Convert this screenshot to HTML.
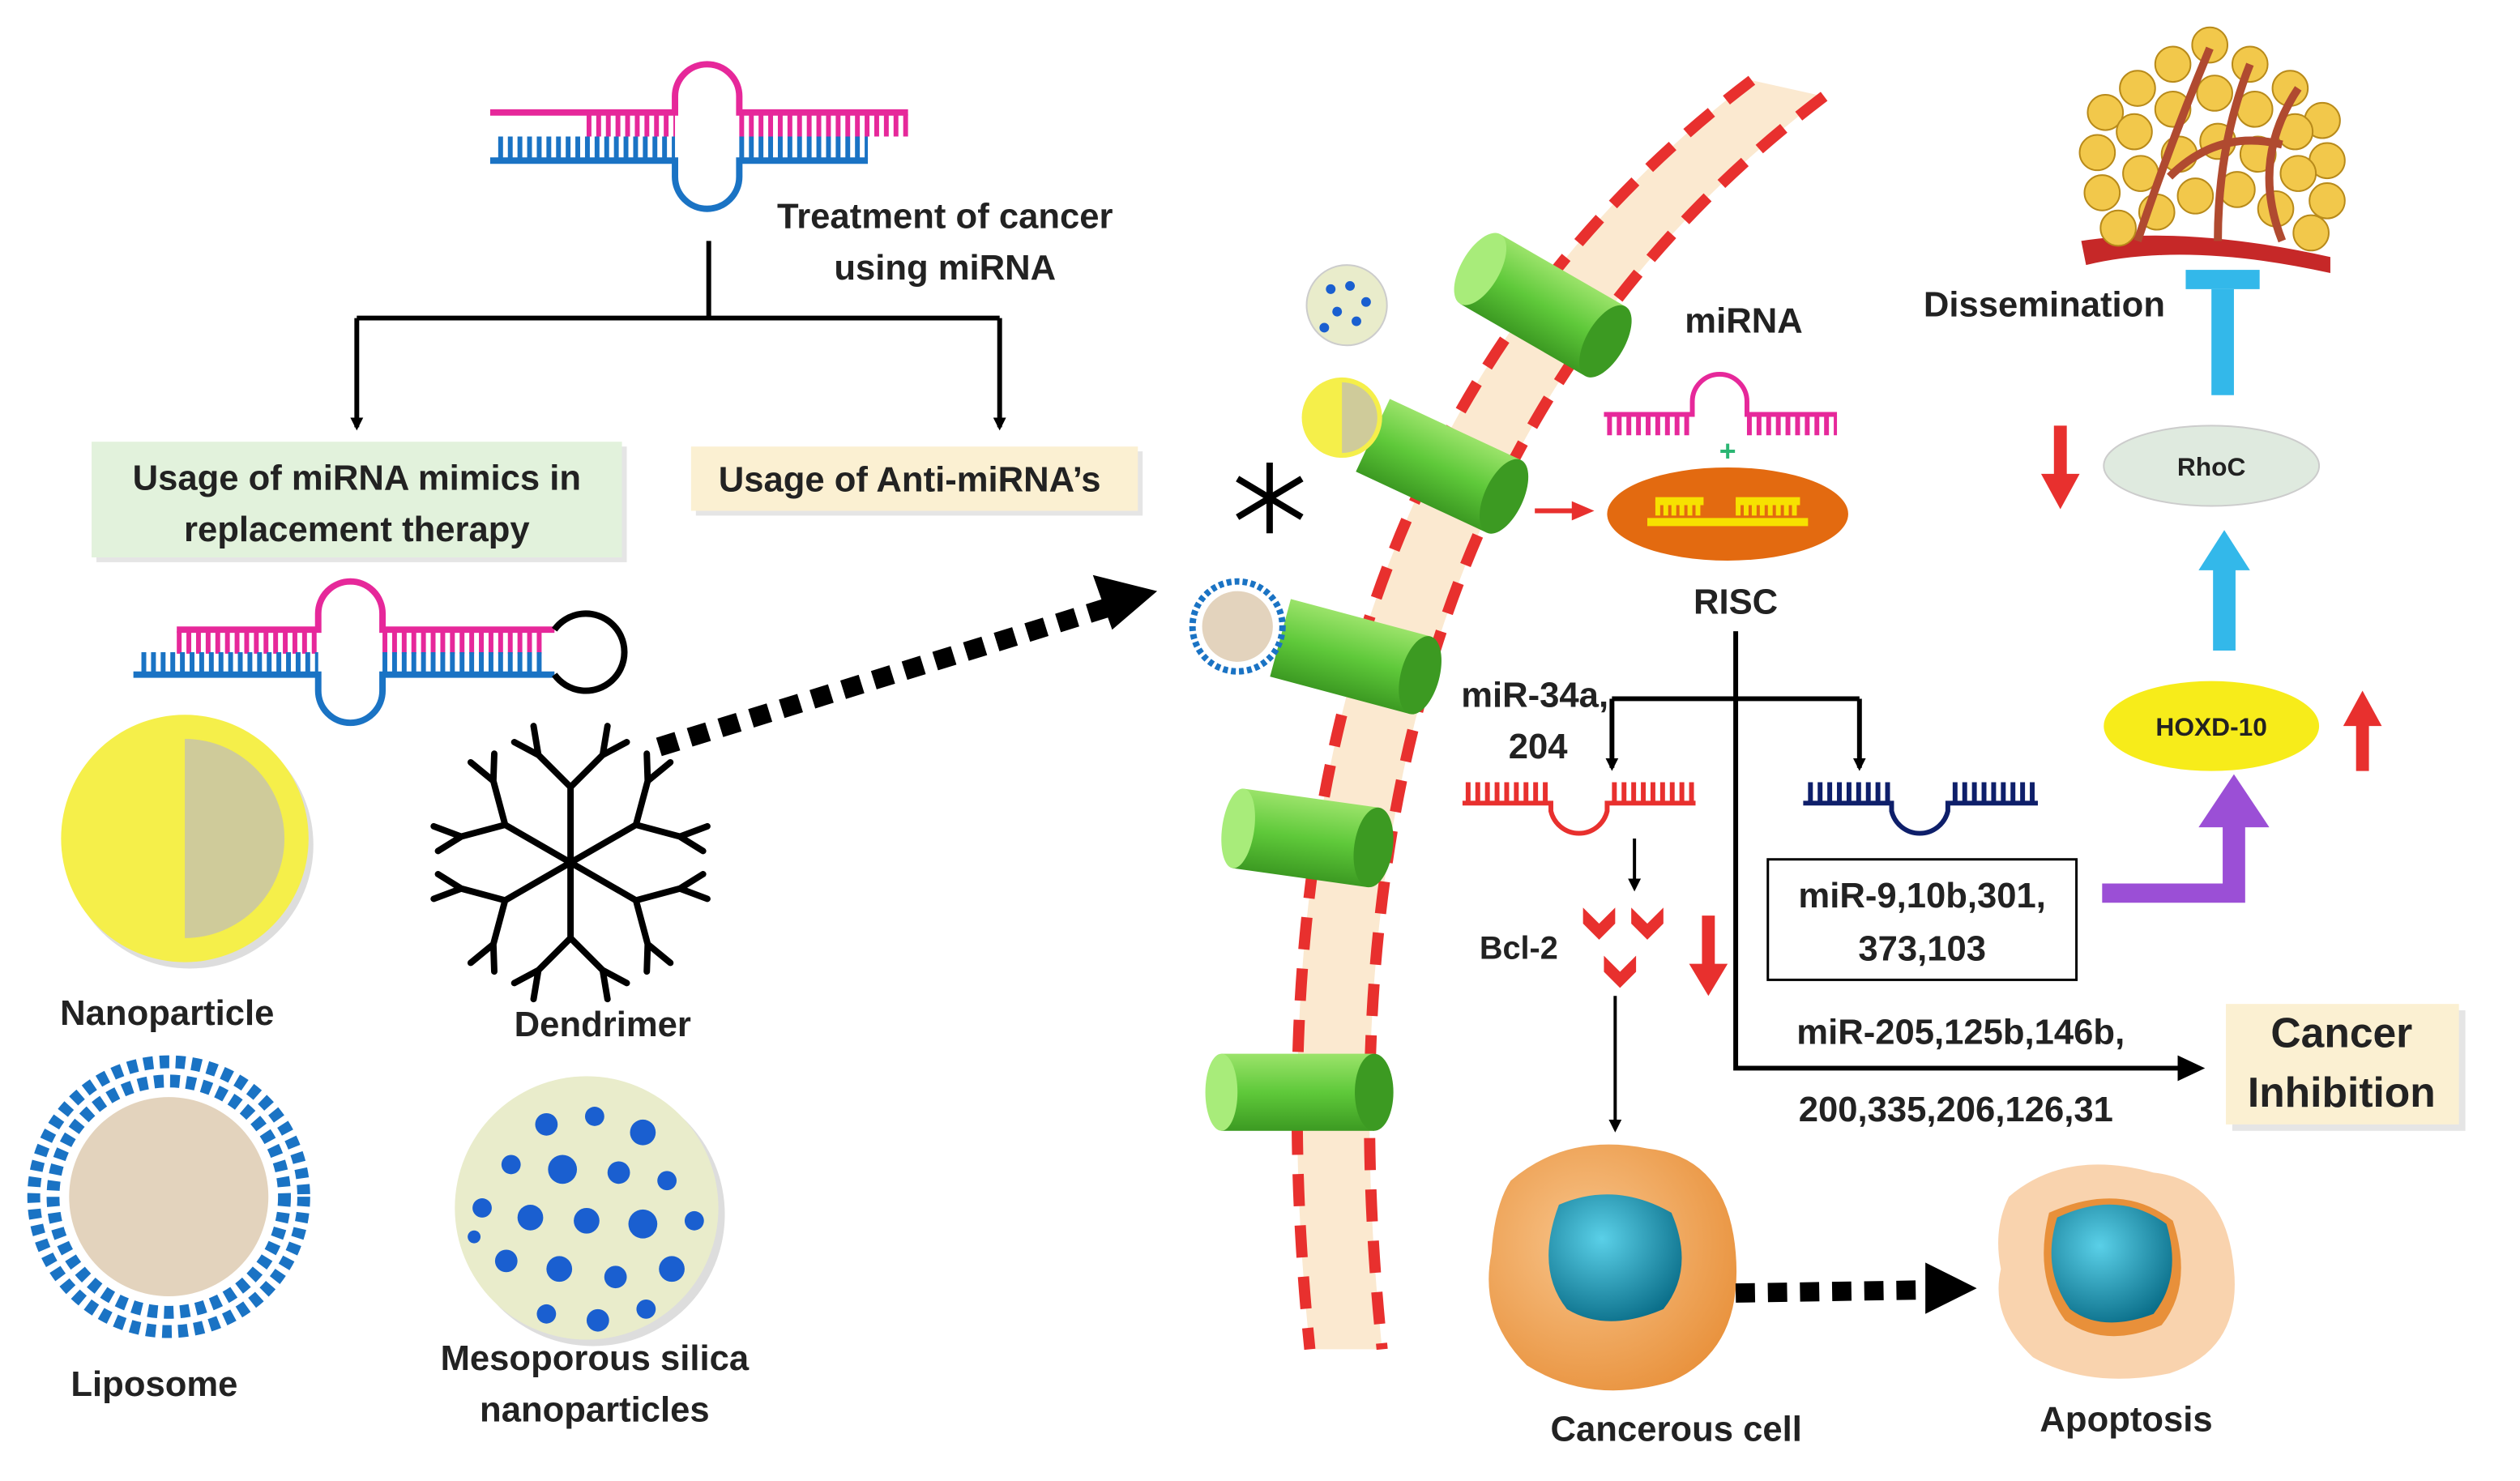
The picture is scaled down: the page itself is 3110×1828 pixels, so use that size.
<!DOCTYPE html>
<html><head><meta charset="utf-8"><style>
html,body{margin:0;padding:0;background:#fff}
svg{display:block}
text{font-family:"Liberation Sans",sans-serif;font-weight:bold;fill:#222}
</style></head><body>
<svg width="3110" height="1828" viewBox="0 0 1568 922" preserveAspectRatio="none" xmlns="http://www.w3.org/2000/svg">
<defs>
<marker id="ah" markerWidth="8" markerHeight="8" refX="6" refY="4" orient="auto" markerUnits="userSpaceOnUse"><path d="M0,0 L8,4 L0,8z" fill="#000"/></marker>
<radialGradient id="cellg" cx="0.4" cy="0.4" r="0.7"><stop offset="0" stop-color="#f8c48a"/><stop offset="1" stop-color="#e8903a"/></radialGradient>
<radialGradient id="nucg" cx="0.4" cy="0.35" r="0.7"><stop offset="0" stop-color="#5ad0e8"/><stop offset="1" stop-color="#0b6f8a"/></radialGradient>
<linearGradient id="cyl" x1="0" y1="0" x2="0" y2="1"><stop offset="0" stop-color="#9be36a"/><stop offset="0.5" stop-color="#5fc93a"/><stop offset="1" stop-color="#3c9a22"/></linearGradient>
</defs>

<!-- top miRNA -->
<g fill="none" stroke-width="4">
<path d="M305,70 H420 V60 A20,20 0 0 1 460,60 V70 H565" stroke="#e6289a"/>
<line x1="365" y1="78" x2="420" y2="78" stroke="#e6289a" stroke-width="14" stroke-dasharray="3 3"/>
<line x1="460" y1="78" x2="565" y2="78" stroke="#e6289a" stroke-width="14" stroke-dasharray="3 3"/>
<path d="M305,100 H420 V110 A20,20 0 0 0 460,110 V100 H540" stroke="#1a73c4"/>
<line x1="310" y1="92" x2="420" y2="92" stroke="#1a73c4" stroke-width="14" stroke-dasharray="3 3"/>
<line x1="460" y1="92" x2="540" y2="92" stroke="#1a73c4" stroke-width="14" stroke-dasharray="3 3"/>
</g>
<text x="588" y="142" font-size="22" text-anchor="middle">Treatment of cancer</text>
<text x="588" y="174" font-size="22" text-anchor="middle">using miRNA</text>

<g stroke="#000" stroke-width="3" fill="none">
<path d="M441,150 V198 M222,198 H622"/>
<line x1="222" y1="198" x2="222" y2="266" marker-end="url(#ah)"/>
<line x1="622" y1="198" x2="622" y2="266" marker-end="url(#ah)"/>
</g>
<rect x="60" y="278" width="330" height="72" fill="#ccc" opacity=".5"/>
<rect x="57" y="275" width="330" height="72" fill="#e2f2dc"/>
<text x="222" y="305" font-size="22" text-anchor="middle">Usage of miRNA mimics in</text>
<text x="222" y="337" font-size="22" text-anchor="middle">replacement therapy</text>
<rect x="433" y="281" width="278" height="40" fill="#ccc" opacity=".5"/>
<rect x="430" y="278" width="278" height="40" fill="#fbf0d2"/>
<text x="566" y="306" font-size="22" text-anchor="middle">Usage of Anti-miRNA’s</text>

<!-- hairpin -->
<g fill="none" stroke-width="4">
<path d="M110,392 H198 V382 A20,20 0 0 1 238,382 V392 H345" stroke="#e6289a"/>
<line x1="110" y1="400" x2="198" y2="400" stroke="#e6289a" stroke-width="14" stroke-dasharray="3 3"/>
<line x1="238" y1="400" x2="340" y2="400" stroke="#e6289a" stroke-width="14" stroke-dasharray="3 3"/>
<path d="M83,420 H198 V430 A20,20 0 0 0 238,430 V420 H345" stroke="#1a73c4"/>
<line x1="88" y1="413" x2="198" y2="413" stroke="#1a73c4" stroke-width="14" stroke-dasharray="3 3"/>
<line x1="238" y1="413" x2="340" y2="413" stroke="#1a73c4" stroke-width="14" stroke-dasharray="3 3"/>
<path d="M345,392 A24,24 0 1 1 345,420" stroke="#000"/>
</g>

<!-- nanoparticle -->
<circle cx="118" cy="526" r="77" fill="#ddd"/>
<circle cx="115" cy="522" r="77" fill="#f5ef4a"/>
<path d="M115,460 A62,62 0 0 1 115,584 Z" fill="#cfcb9a"/>
<text x="104" y="638" font-size="22" text-anchor="middle">Nanoparticle</text>

<!-- liposome -->
<circle cx="105" cy="745" r="62" fill="#e3d3bd"/>
<circle cx="105" cy="745" r="72" fill="none" stroke="#1a73c4" stroke-width="8" stroke-dasharray="6 4"/>
<circle cx="105" cy="745" r="84" fill="none" stroke="#1a73c4" stroke-width="8" stroke-dasharray="6 4"/>
<text x="96" y="869" font-size="22" text-anchor="middle">Liposome</text>

<!-- dendrimer -->
<g stroke="#000" stroke-width="4" fill="none" stroke-linecap="round">
<g id="br"><path d="M355,537 L355,490 M355,490 L335,470 M355,490 L375,470 M335,470 L320,462 M335,470 L332,452 M375,470 L390,462 M375,470 L378,452"/></g>
<use href="#br" transform="rotate(60 355 537)"/>
<use href="#br" transform="rotate(120 355 537)"/>
<use href="#br" transform="rotate(180 355 537)"/>
<use href="#br" transform="rotate(240 355 537)"/>
<use href="#br" transform="rotate(300 355 537)"/>
</g>
<text x="375" y="645" font-size="22" text-anchor="middle">Dendrimer</text>

<!-- mesoporous -->
<circle cx="369" cy="756" r="82" fill="#ddd"/>
<circle cx="365" cy="752" r="82" fill="#e9eccb"/>
<g fill="#1a5fd0">
<circle cx="340" cy="700" r="7"/><circle cx="370" cy="695" r="6"/><circle cx="400" cy="705" r="8"/><circle cx="318" cy="725" r="6"/>
<circle cx="350" cy="728" r="9"/><circle cx="385" cy="730" r="7"/><circle cx="415" cy="735" r="6"/><circle cx="300" cy="752" r="6"/>
<circle cx="330" cy="758" r="8"/><circle cx="365" cy="760" r="8"/><circle cx="400" cy="762" r="9"/><circle cx="432" cy="760" r="6"/>
<circle cx="315" cy="785" r="7"/><circle cx="348" cy="790" r="8"/><circle cx="383" cy="795" r="7"/><circle cx="418" cy="790" r="8"/>
<circle cx="340" cy="818" r="6"/><circle cx="372" cy="822" r="7"/><circle cx="402" cy="815" r="6"/><circle cx="295" cy="770" r="4"/>
</g>
<text x="370" y="853" font-size="22" text-anchor="middle">Mesoporous silica</text>
<text x="370" y="885" font-size="22" text-anchor="middle">nanoparticles</text>

<!-- dotted arrow -->
<line x1="410" y1="465" x2="690" y2="378" stroke="#000" stroke-width="12" stroke-dasharray="12 8"/>
<path d="M720,368 L680,358 L692,392 Z" fill="#000"/>

<!-- membrane -->
<path d="M1090,50 Q760,300 815,840 L860,840 Q805,310 1135,60 Z" fill="#fbe9d0"/>
<path d="M1090,50 Q760,300 815,840" fill="none" stroke="#e8302e" stroke-width="7" stroke-dasharray="20 12"/>
<path d="M1135,60 Q805,310 860,840" fill="none" stroke="#e8302e" stroke-width="7" stroke-dasharray="20 12"/>

<!-- cylinders -->
<g>
<g transform="rotate(30 960 190)"><rect x="915" y="165" width="90" height="50" fill="url(#cyl)"/><ellipse cx="1005" cy="190" rx="12" ry="25" fill="#3c9a22"/><ellipse cx="915" cy="190" rx="12" ry="25" fill="#a8ec7a"/></g>
<g transform="rotate(25 895 290)"><rect x="850" y="265" width="90" height="50" fill="url(#cyl)"/><ellipse cx="940" cy="290" rx="12" ry="25" fill="#3c9a22"/></g>
<g transform="rotate(15 845 410)"><rect x="795" y="385" width="90" height="50" fill="url(#cyl)"/><ellipse cx="885" cy="410" rx="12" ry="25" fill="#3c9a22"/></g>
<g transform="rotate(8 815 522)"><rect x="770" y="497" width="85" height="50" fill="url(#cyl)"/><ellipse cx="855" cy="522" rx="12" ry="25" fill="#3c9a22"/><ellipse cx="770" cy="522" rx="10" ry="25" fill="#a8ec7a"/></g>
<g><rect x="760" y="656" width="95" height="48" fill="url(#cyl)"/><ellipse cx="855" cy="680" rx="12" ry="24" fill="#3c9a22"/><ellipse cx="760" cy="680" rx="10" ry="24" fill="#a8ec7a"/></g>
</g>
<circle cx="838" cy="190" r="25" fill="#e9eccb" stroke="#ccc"/>
<g fill="#1a5fd0"><circle cx="828" cy="180" r="3"/><circle cx="840" cy="178" r="3"/><circle cx="850" cy="188" r="3"/><circle cx="832" cy="194" r="3"/><circle cx="844" cy="200" r="3"/><circle cx="824" cy="204" r="3"/></g>
<circle cx="835" cy="260" r="25" fill="#f5ef4a"/><path d="M835,238 A22,22 0 0 1 835,282Z" fill="#cfcb9a"/>
<g stroke="#000" stroke-width="4"><line x1="790" y1="288" x2="790" y2="332"/><line x1="770" y1="298" x2="810" y2="322"/><line x1="770" y1="322" x2="810" y2="298"/></g>
<circle cx="770" cy="390" r="22" fill="#e3d3bd"/><circle cx="770" cy="390" r="28" fill="none" stroke="#1a73c4" stroke-width="4" stroke-dasharray="3 2"/>

<text x="1085" y="207" font-size="22" text-anchor="middle">miRNA</text>
<g fill="none" stroke="#e6289a" stroke-width="3">
<path d="M998,258 H1053 V250 A17,17 0 0 1 1087,250 V258 H1143"/>
<line x1="1000" y1="265" x2="1053" y2="265" stroke-width="12" stroke-dasharray="3 3"/>
<line x1="1087" y1="265" x2="1143" y2="265" stroke-width="12" stroke-dasharray="3 3"/>
</g>
<text x="1075" y="287" font-size="18" text-anchor="middle" style="fill:#2bb673">+</text>
<ellipse cx="1075" cy="320" rx="75" ry="29" fill="#e36a10"/>
<path d="M1025,325 H1125 M1030,312 H1060 M1080,312 H1120" stroke="#f7e100" stroke-width="5"/>
<line x1="1030" y1="316" x2="1060" y2="316" stroke="#f7e100" stroke-width="10" stroke-dasharray="3 2"/>
<line x1="1080" y1="316" x2="1120" y2="316" stroke="#f7e100" stroke-width="10" stroke-dasharray="3 2"/>
<line x1="955" y1="318" x2="980" y2="318" stroke="#e8302e" stroke-width="3"/><path d="M978,312 L992,318 L978,324z" fill="#e8302e"/>
<text x="1080" y="382" font-size="22" text-anchor="middle">RISC</text>

<g stroke="#000" stroke-width="3" fill="none">
<path d="M1080,393 V665 H1360"/>
<path d="M1003,435 H1157"/>
<line x1="1003" y1="435" x2="1003" y2="478" marker-end="url(#ah)"/>
<line x1="1157" y1="435" x2="1157" y2="478" marker-end="url(#ah)"/>
<line x1="1017" y1="522" x2="1017" y2="553" stroke-width="2" marker-end="url(#ah)"/>
<line x1="1005" y1="620" x2="1005" y2="703" stroke-width="2" marker-end="url(#ah)"/>
</g>
<path d="M1355,657 L1372,665 L1355,673z" fill="#000"/>
<text x="955" y="440" font-size="22" text-anchor="middle">miR-34a,</text>
<text x="957" y="472" font-size="22" text-anchor="middle">204</text>

<g fill="none" stroke="#e8302e" stroke-width="3">
<path d="M910,500 H965 V505 A18,18 0 0 0 1000,505 V500 H1055"/>
<line x1="912" y1="493" x2="965" y2="493" stroke-width="12" stroke-dasharray="3 3"/>
<line x1="1003" y1="493" x2="1055" y2="493" stroke-width="12" stroke-dasharray="3 3"/>
</g>
<g fill="none" stroke="#0e1f6a" stroke-width="3">
<path d="M1122,500 H1177 V505 A18,18 0 0 0 1212,505 V500 H1268"/>
<line x1="1125" y1="493" x2="1177" y2="493" stroke-width="12" stroke-dasharray="3 3"/>
<line x1="1215" y1="493" x2="1268" y2="493" stroke-width="12" stroke-dasharray="3 3"/>
</g>
<rect x="1100" y="535" width="192" height="75" fill="#fff" stroke="#000" stroke-width="1.5"/>
<text x="1196" y="565" font-size="22" text-anchor="middle">miR-9,10b,301,</text>
<text x="1196" y="598" font-size="22" text-anchor="middle">373,103</text>
<text x="945" y="597" font-size="20" text-anchor="middle">Bcl-2</text>
<g fill="#e8302e">
<path d="M985,565 l10,10 l10,-10 v10 l-10,10 l-10,-10z"/><path d="M1015,565 l10,10 l10,-10 v10 l-10,10 l-10,-10z"/><path d="M998,595 l10,10 l10,-10 v10 l-10,10 l-10,-10z"/>
<path d="M1059,570 h8 v30 h8 l-12,20 l-12,-20 h8z"/>
<path d="M1278,265 h8 v30 h8 l-12,22 l-12,-22 h8z"/>
<path d="M1466,480 h8 v-28 h8 l-12,-22 l-12,22 h8z"/>
</g>
<text x="1220" y="650" font-size="22" text-anchor="middle">miR-205,125b,146b,</text>
<text x="1217" y="698" font-size="22" text-anchor="middle">200,335,206,126,31</text>
<rect x="1389" y="629" width="145" height="75" fill="#ccc" opacity=".5"/>
<rect x="1385" y="625" width="145" height="75" fill="#fbf0d2"/>
<text x="1457" y="652" font-size="26" text-anchor="middle">Cancer</text>
<text x="1457" y="689" font-size="26" text-anchor="middle">Inhibition</text>

<!-- cells -->
<path d="M940,735 Q975,705 1025,715 Q1075,720 1080,780 Q1085,840 1040,860 Q990,875 950,850 Q920,820 928,780 Q930,750 940,735Z" fill="url(#cellg)"/>
<path d="M970,750 Q1005,735 1040,755 Q1055,790 1035,815 Q1000,830 975,815 Q955,790 970,750Z" fill="url(#nucg)"/>
<text x="1043" y="897" font-size="22" text-anchor="middle">Cancerous cell</text>
<line x1="1080" y1="805" x2="1200" y2="803" stroke="#000" stroke-width="12" stroke-dasharray="12 8"/>
<path d="M1230,802 L1198,786 L1198,818Z" fill="#000"/>
<path d="M1250,745 Q1285,715 1340,730 Q1385,735 1390,790 Q1395,840 1350,855 Q1300,865 1265,845 Q1238,820 1245,790 Q1240,765 1250,745Z" fill="#f8c89a" opacity=".8"/>
<path d="M1275,755 Q1320,735 1352,760 Q1365,800 1345,825 Q1310,840 1285,822 Q1265,795 1275,755Z" fill="#e8903a"/>
<path d="M1280,758 Q1318,740 1348,762 Q1358,795 1340,818 Q1308,830 1288,815 Q1270,790 1280,758Z" fill="url(#nucg)"/>
<text x="1323" y="891" font-size="22" text-anchor="middle">Apoptosis</text>

<!-- right pathway -->
<path d="M1308,550 H1383 V515 H1368 L1390,482 L1412,515 H1397 V562 H1308Z" fill="#9b4fd6"/>
<ellipse cx="1376" cy="452" rx="67" ry="28" fill="#f7ec1a"/>
<text x="1376" y="458" font-size="16" text-anchor="middle">HOXD-10</text>
<path d="M1377,405 V355 H1368 L1384,330 L1400,355 H1391 V405Z" fill="#33b8ea"/>
<ellipse cx="1376" cy="290" rx="67" ry="25" fill="#dfeadf" stroke="#ccc"/>
<text x="1376" y="296" font-size="16" text-anchor="middle">RhoC</text>
<rect x="1376" y="180" width="14" height="66" fill="#33b8ea"/>
<rect x="1360" y="168" width="46" height="12" fill="#33b8ea"/>
<text x="1272" y="197" font-size="22" text-anchor="middle">Dissemination</text>

<!-- tumor -->
<g>
<path d="M1295,150 Q1360,140 1450,160 L1450,170 Q1360,150 1298,165Z" fill="#c62828"/>
<g fill="#f2c84b" stroke="#b88a1a" stroke-width="1">
<circle cx="1310" cy="70" r="11"/><circle cx="1330" cy="55" r="11"/><circle cx="1352" cy="40" r="11"/><circle cx="1375" cy="28" r="11"/><circle cx="1400" cy="40" r="11"/><circle cx="1425" cy="55" r="11"/><circle cx="1445" cy="75" r="11"/>
<circle cx="1305" cy="95" r="11"/><circle cx="1328" cy="82" r="11"/><circle cx="1352" cy="68" r="11"/><circle cx="1378" cy="58" r="11"/><circle cx="1403" cy="68" r="11"/><circle cx="1428" cy="82" r="11"/><circle cx="1448" cy="100" r="11"/>
<circle cx="1308" cy="120" r="11"/><circle cx="1332" cy="108" r="11"/><circle cx="1356" cy="96" r="11"/><circle cx="1380" cy="88" r="11"/><circle cx="1405" cy="96" r="11"/><circle cx="1430" cy="108" r="11"/><circle cx="1448" cy="125" r="11"/>
<circle cx="1318" cy="142" r="11"/><circle cx="1342" cy="132" r="11"/><circle cx="1366" cy="122" r="11"/><circle cx="1392" cy="118" r="11"/><circle cx="1416" cy="130" r="11"/><circle cx="1438" cy="145" r="11"/>
</g>
<g fill="none" stroke="#b04a30" stroke-width="5">
<path d="M1330,150 Q1350,90 1375,30"/><path d="M1380,150 Q1380,90 1400,40"/><path d="M1420,150 Q1400,100 1430,55"/><path d="M1350,110 Q1380,80 1420,90"/>
</g>
</g>
</svg>
</body></html>
